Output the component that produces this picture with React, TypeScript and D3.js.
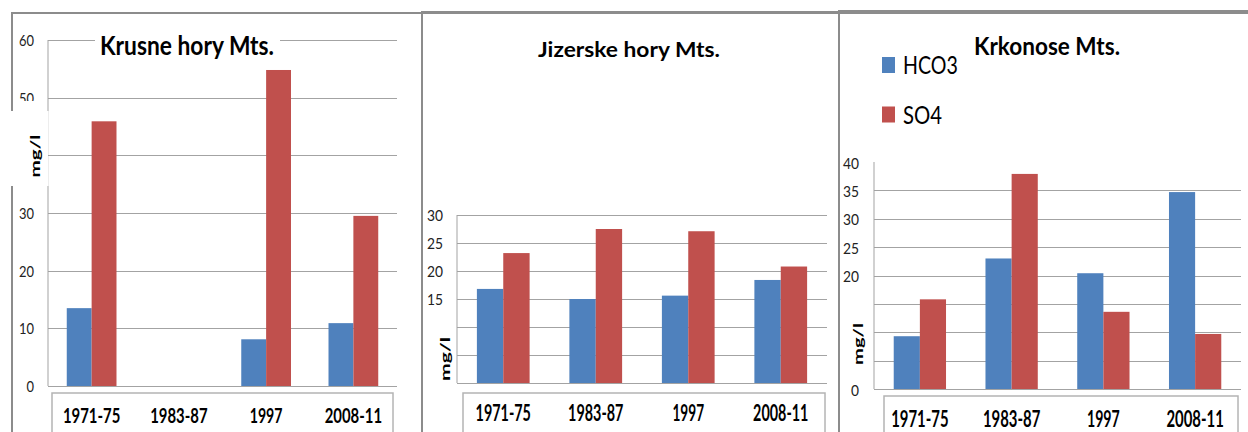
import * as d3 from "d3";
import { ReactElement } from "react";

// categories and series
const categories = ["1971-75", "1983-87", "1997", "2008-11"];
const seriesNames = ["HCO3", "SO4"];
const seriesColors = ["#4F81BD", "#C0504D"];

// Krusne hory Mts. (no data for 1983-87)
const krusneHCO3 = [13.5, null, 8.1, 10.9];
const krusneSO4 = [45.9, null, 54.8, 29.5];
const krusneTickLabels = [0, 10, 20, 30, 50, 60];

// Jizerske hory Mts.
const jizerskeHCO3 = [16.8, 15.0, 15.6, 18.4];
const jizerskeSO4 = [23.2, 27.5, 27.1, 20.8];
const jizerskeTickLabels = [15, 20, 25, 30];

// Krkonose Mts.
const krkonoseHCO3 = [9.3, 23.0, 20.4, 34.7];
const krkonoseSO4 = [15.8, 37.9, 13.6, 9.7];
const krkonoseTickLabels = [0, 20, 25, 30, 35, 40];

const FONT = "Lato, 'Open Sans', sans-serif";
const GRID = "#a3a3a3";
const BORDER = "#8c8c8c";

interface PanelProps {
    title: string,
    hco3: (number | null)[],
    so4: (number | null)[],
    tickLabels: number[],
    max: number,
    step: number,
    drawTop: boolean,
    // layout
    left: number, top: number,
    x0: number, x1: number, yZero: number, yTop: number,
    labelEnd: number, labelShift: number, labelSize: number, digitW: number,
    titleX: number, titleY: number, titleSize: number, titleLen: number,
    titleBox?: [number, number],
    mgl: { x: number, y: number, len: number, size: number },
    box: { x0: number, x1: number, top: number },
    catY: number, catSize: number, catW: number,
    legend?: boolean,
    extra?: ReactElement,
}

const Panel = (p: PanelProps): ReactElement => {
    const x = d3.scaleBand<string>()
        .domain(categories)
        .range([p.x0, p.x1])
        .paddingInner(0.43)
        .paddingOuter(0.215);
    const xs = d3.scaleBand<string>()
        .domain(seriesNames)
        .range([0, x.bandwidth()]);
    const y = d3.scaleLinear()
        .domain([0, p.max])
        .range([p.yZero, p.yTop]);

    const grid = d3.range(0, p.max + p.step / 2, p.step).filter(v => p.drawTop || v < p.max);
    const values = [p.hco3, p.so4];

    return (
        <g>
            {/* panel frame */}
            <line x1={p.left} x2={1248} y1={p.top} y2={p.top} stroke={BORDER} strokeWidth={2} />
            <line x1={p.left} x2={p.left} y1={p.top - 1} y2={432} stroke={BORDER} strokeWidth={2} />

            {/* y axis line */}
            <line x1={p.x0} x2={p.x0} y1={p.yTop} y2={p.yZero} stroke={GRID} />

            {p.extra}

            {/* gridlines */}
            {grid.map(v => (
                <line key={v} x1={p.x0} x2={p.x1} y1={Math.round(y(v)) + 0.5} y2={Math.round(y(v)) + 0.5} stroke={GRID} />
            ))}

            {/* tick labels */}
            {p.tickLabels.map(v => (
                <text key={v} x={p.labelEnd} y={y(v) + p.labelShift} textAnchor="end"
                    fontFamily={FONT} fontSize={p.labelSize} fill="#222"
                    textLength={String(v).length * p.digitW} lengthAdjust="spacingAndGlyphs">{v}</text>
            ))}

            {/* bars */}
            {categories.map((c, i) => seriesNames.map((s, j) => {
                const v = values[j][i];
                if (v == null) return null;
                return (
                    <rect key={c + s} x={x(c)! + xs(s)!} y={y(v)} width={xs.bandwidth()}
                        height={y(0) - y(v)} fill={seriesColors[j]} />
                );
            }))}

            {/* title */}
            {p.titleBox && (
                <rect x={p.titleBox[0]} y={p.titleY - 26} width={p.titleBox[1] - p.titleBox[0]} height={30} fill="#fff" />
            )}
            <text x={p.titleX} y={p.titleY} textAnchor="middle" fontFamily={FONT} fontWeight="bold"
                fontSize={p.titleSize} textLength={p.titleLen} lengthAdjust="spacingAndGlyphs">{p.title}</text>

            {/* y axis title */}
            <text transform={`translate(${p.mgl.x},${p.mgl.y}) rotate(-90)`} textAnchor="middle"
                fontFamily={FONT} fontWeight="bold" fontSize={p.mgl.size}
                textLength={p.mgl.len} lengthAdjust="spacingAndGlyphs">mg/l</text>

            {/* category box */}
            <rect x={p.box.x0} y={p.box.top} width={p.box.x1 - p.box.x0} height={60}
                fill="none" stroke="#b4b4b4" strokeWidth={1.5} />
            {categories.map(c => (
                <text key={c} x={x(c)! + x.bandwidth() / 2} y={p.catY} textAnchor="middle"
                    fontFamily={FONT} fontWeight="bold" fontSize={p.catSize}
                    textLength={c.length * p.catW} lengthAdjust="spacingAndGlyphs">{c}</text>
            ))}

            {/* legend */}
            {p.legend && seriesNames.map((s, j) => (
                <g key={s}>
                    <rect x={882} y={57 + j * 49.5} width={13} height={16} fill={seriesColors[j]} />
                    <text x={903} y={74 + j * 49.5} fontFamily={FONT} fontSize={25}
                        textLength={s.length * (j == 0 ? 13.7 : 13)} lengthAdjust="spacingAndGlyphs">{s}</text>
                </g>
            ))}
        </g>
    );
};

const App = (): ReactElement => {
    return (
        <svg width={1248} height={432} style={{ position: "fixed", left: 0, top: 0, background: "#fff" }}>
            <rect width={1248} height={432} fill="#fff" />
            <Panel
                title="Krusne hory Mts." hco3={krusneHCO3} so4={krusneSO4}
                tickLabels={krusneTickLabels} max={60} step={10} drawTop={true}
                left={12} top={13}
                x0={48} x1={397} yZero={386} yTop={40}
                labelEnd={34} labelShift={6} labelSize={16} digitW={7.5}
                titleX={187} titleY={55} titleSize={27} titleLen={174} titleBox={[95, 280]}
                mgl={{ x: 40, y: 156, len: 43, size: 13 }}
                box={{ x0: 52, x1: 393, top: 393 }}
                catY={423} catSize={21} catW={8.2}
                extra={
                    <g>
                        <rect x={0} y={111} width={48.6} height={75} fill="#fff" />
                    </g>
                }
            />
            <Panel
                title="Jizerske hory Mts." hco3={jizerskeHCO3} so4={jizerskeSO4}
                tickLabels={jizerskeTickLabels} max={30} step={5} drawTop={true}
                left={422} top={12}
                x0={457} x1={827} yZero={383} yTop={215}
                labelEnd={443} labelShift={5.5} labelSize={15} digitW={8}
                titleX={629} titleY={57} titleSize={21} titleLen={182}
                mgl={{ x: 449.5, y: 359, len: 44, size: 12.5 }}
                box={{ x0: 463, x1: 825, top: 393 }}
                catY={421} catSize={23} catW={7.9}
            />
            <Panel
                title="Krkonose Mts." hco3={krkonoseHCO3} so4={krkonoseSO4}
                tickLabels={krkonoseTickLabels} max={40} step={5} drawTop={false}
                left={839} top={11}
                x0={874} x1={1241} yZero={389} yTop={162}
                labelEnd={859} labelShift={6.5} labelSize={15} digitW={8}
                titleX={1047} titleY={55} titleSize={25} titleLen={146}
                mgl={{ x: 863, y: 344, len: 42, size: 14 }}
                box={{ x0: 884, x1: 1238, top: 396 }}
                catY={427} catSize={23} catW={8.2}
                legend={true}
            />
            {/* cut of the "50" label under the axis-title box */}
            <rect x={14} y={101} width={30} height={10} fill="#fff" />
        </svg>
    );
};

export default App;
